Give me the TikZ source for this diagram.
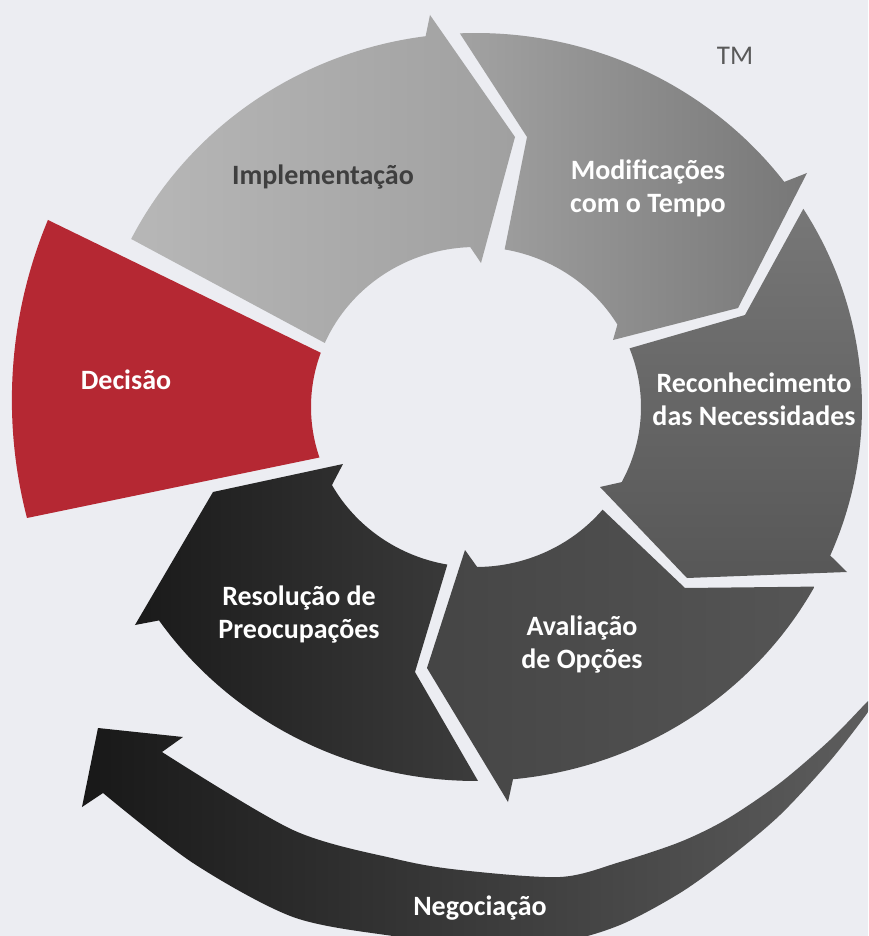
\documentclass[tikz,border=0pt]{standalone}
\usepackage{fontspec}
\setmainfont{Carlito}
\begin{document}
\begin{tikzpicture}[x=1pt,y=-1pt]
\definecolor{bg}{HTML}{ECEDF2}
\definecolor{red}{HTML}{B52833}
\definecolor{implL}{HTML}{B7B7B7}
\definecolor{implR}{HTML}{A0A0A0}
\definecolor{modL}{HTML}{A2A2A2}
\definecolor{modR}{HTML}{777777}
\definecolor{recT}{HTML}{777777}
\definecolor{recB}{HTML}{575757}
\definecolor{avaL}{HTML}{454545}
\definecolor{avaR}{HTML}{555555}
\definecolor{resL}{HTML}{1A1A1A}
\definecolor{resR}{HTML}{3C3C3C}
\definecolor{negL}{HTML}{181818}
\definecolor{negR}{HTML}{5E5E5E}
\definecolor{dark}{HTML}{3F3F3F}
\definecolor{tmgray}{HTML}{595959}
\tikzset{
  lab/.style={font=\fontsize{28}{33}\selectfont\bfseries, align=center, inner sep=0pt, text=white},
  implshape/.style={left color=implL, right color=implR},
  modshape/.style={left color=modL, right color=modR},
  recshape/.style={top color=recT, bottom color=recB},
  avashape/.style={left color=avaL, right color=avaR},
  resshape/.style={left color=resL, right color=resR},
  negshape/.style={left color=negL, right color=negR},
  decshape/.style={fill=red}
}
\useasboundingbox (-476,-407) rectangle (392,529);
\fill[bg] (-476,-407) rectangle (392,529);
\clip (-476,-407) rectangle (392,529);

% Decisao
\path[decshape] (-428,-187) -- (199.8:165 and 160)
  arc[start angle=199.8, end angle=161.6, x radius=165, y radius=160]
  -- (-449,111) arc[start angle=165.4, end angle=202.6, radius=468] -- cycle;

% Implementacao
\path[implshape] (206.7:386 and 374)
  arc[start angle=206.7, end angle=262.5, x radius=386, y radius=374]
  -- (-46,-392) -- (39,-270) -- (5,-144) -- (268:165 and 160)
  arc[start angle=268, end angle=203.6, x radius=165, y radius=160] -- cycle;

% Modificacoes
\path[modshape] (267.6:386 and 374)
  arc[start angle=267.6, end angle=323, x radius=386, y radius=374]
  -- (331,-234) -- (262,-99) -- (137,-67) -- (329:165 and 160)
  arc[start angle=329, end angle=280, x radius=165, y radius=160]
  -- (51,-270) -- cycle;

% Reconhecimento
\path[recshape] (328:386 and 374)
  arc[start angle=328, end angle=383.4, x radius=386, y radius=374]
  -- (371,165) -- (211,171) -- (124,80) -- (388:165 and 160)
  arc[start angle=388, end angle=338.5, x radius=165, y radius=160]
  -- (269,-92) -- cycle;

% Avaliacao
\path[avashape] (28.7:386 and 374)
  arc[start angle=28.7, end angle=84.5, x radius=386, y radius=374]
  -- (32,395) -- (-49,261) -- (-11,143) -- (89.6:165 and 160)
  arc[start angle=89.6, end angle=39.9, x radius=165, y radius=160]
  -- (209,181) -- cycle;

% Resolucao
\path[resshape] (89.7:386 and 374)
  arc[start angle=89.7, end angle=145.2, x radius=386, y radius=374]
  -- (-341,218) -- (-263,85) -- (-133,57) -- (150.8:165 and 160)
  arc[start angle=150.8, end angle=100, x radius=165, y radius=160]
  -- (-61,265) -- cycle;

% Negociacao
\path[negshape] (-378,321) -- (-293,330) -- (-314,345)
  -- plot[smooth, tension=0.5] coordinates {(-314,345) (-183,423) (-80,452) (-16,463) (84,470) (144,455) (204,435) (251,412) (304,376) (354,333) (392,294) (404,283)}
  -- plot[smooth, tension=0.5] coordinates {(404,283) (392,305) (354,354) (304,408) (254,450) (204,486) (144,518) (84,535) (4,538) (-83,529) (-183,510) (-283,456) (-373,386)}
  -- (-394,400) -- cycle;

% Labels
\node[lab] (tDec) at (-350,-27) {Decisão};
\node[lab, text=dark] (tImpl) at (-153,-230) {Implementação};
\node[lab] (tMod) at (172,-219) {Modificações\\com o Tempo};
\node[lab] (tRec) at (278,-8) {Reconhecimento\\das Necessidades};
\node[lab] (tAva) at (106,238) {Avaliação\\de Opções};
\node[lab] (tRes) at (-177,208) {Resolução de\\Preocupações};
\node[lab] (tNeg) at (4,501) {Negociação};
\node[font=\fontsize{27}{30}\selectfont, text=tmgray, inner sep=0pt] (tTM) at (259,-351) {TM};
\end{tikzpicture}
\end{document}
